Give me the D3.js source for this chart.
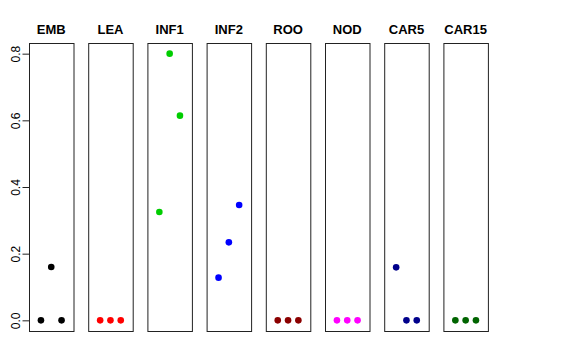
<!DOCTYPE html>
<html>
<head>
<meta charset="UTF-8">
<title>Tissues</title>
<script src="https://d3js.org/d3.v7.min.js"></script>
<style>
  body { margin: 0; background: white; }
  svg { font-family: "Liberation Sans", Arial, sans-serif; }
</style>
</head>
<body>
<div id="chart"></div>
<script>
// tissue panels, colours and the three values in each
var tissues = ["EMB", "LEA", "INF1", "INF2", "ROO", "NOD", "CAR5", "CAR15"];
var colours = ["#000000", "#FF0000", "#00CD00", "#0000FF", "#8B0000", "#FF00FF", "#00008B", "#006400"];
var values = [
    [0, 0.16, 0],
    [0, 0, 0],
    [0.325, 0.80, 0.614],
    [0.128, 0.234, 0.346],
    [0, 0, 0],
    [0, 0, 0],
    [0.159, 0, 0],
    [0, 0, 0]
];
var yTicks = [0, 0.2, 0.4, 0.6, 0.8];

var width = 576, height = 360;
var plotTop = 43, plotBottom = 331;
var panelW = 44.5, step = 59.2, left0 = 29;

var svg = d3.select("#chart").append("svg")
    .attr("width", width)
    .attr("height", height);

// y scale shared by all panels (R style 4% padding)
var yScale = d3.scaleLinear()
    .domain([-0.032, 0.832])
    .range([plotBottom, plotTop]);

// x scale inside one panel
var xScale = d3.scaleLinear()
    .domain([-0.16, 4.16])
    .range([0, panelW]);

var panelX = d3.scaleLinear()
    .domain([0, 1])
    .range([left0, left0 + step]);

tissues.forEach(function(name, i) {
    var g = svg.append("g")
        .attr("transform", "translate(" + panelX(i) + ",0)");

    g.append("rect")
        .attr("x", 0.5)
        .attr("y", plotTop + 0.5)
        .attr("width", panelW)
        .attr("height", plotBottom - plotTop)
        .attr("fill", "none")
        .attr("stroke", "#222")
        .attr("stroke-width", 1);

    g.append("text")
        .attr("x", panelW / 2)
        .attr("y", 34)
        .attr("text-anchor", "middle")
        .attr("font-weight", "bold")
        .attr("font-size", "13px")
        .text(name);

    g.selectAll("circle")
        .data(values[i])
        .enter()
        .append("circle")
            .attr("cx", function(d, j) { return xScale(j + 1); })
            .attr("cy", function(d) { return yScale(d); })
            .attr("r", 3.3)
            .attr("fill", colours[i]);
});

// y axis on the first panel
var yAxis = d3.axisLeft(yScale)
    .tickValues(yTicks)
    .tickSize(7)
    .tickFormat(d3.format(".1f"));

var axisG = svg.append("g")
    .attr("transform", "translate(" + (left0 + 0.5) + ",0)")
    .call(yAxis);

axisG.select(".domain")
    .attr("d", "M0," + yScale(0) + "V" + yScale(0.8))
    .attr("stroke", "#222");
axisG.selectAll(".tick line").attr("stroke", "#222");
// rotated labels, reading bottom to top
axisG.selectAll(".tick text")
    .attr("font-family", "Liberation Sans, Arial, sans-serif")
    .attr("font-size", "12px")
    .attr("fill", "#000")
    .attr("text-anchor", "middle")
    .attr("x", 0)
    .attr("y", 0)
    .attr("dy", 0)
    .attr("transform", "translate(-10,0) rotate(-90)");
</script>
</body>
</html>
